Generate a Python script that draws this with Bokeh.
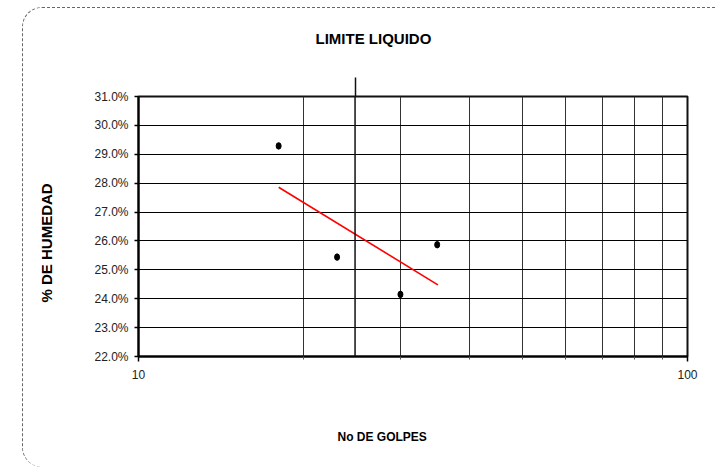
from bokeh.plotting import figure
from bokeh.models import (Range1d, FixedTicker, NumeralTickFormatter, PrintfTickFormatter,
                          LinearAxis, Span, Title, InlineStyleSheet)
from bokeh.embed import file_html
from bokeh.resources import INLINE

# ---- data ----
golpes = [18, 23, 30, 35]
humedad = [0.2929, 0.2544, 0.2415, 0.2587]
trend_golpes = [18, 35.1]
trend_humedad = [0.2786, 0.2448]
ref_golpes = 24.8
y_ticks = [0.22, 0.23, 0.24, 0.25, 0.26, 0.27, 0.28, 0.29, 0.30, 0.31]
x_major = [10, 100]
x_minor = [20, 30, 40, 50, 60, 70, 80, 90]

title_text = "LIMITE LIQUIDO"
x_label = "No DE GOLPES"
y_label = "% DE HUMEDAD"

FONT = "Liberation Sans"

p = figure(width=716, height=467, x_axis_type="log",
           x_range=Range1d(10, 100), y_range=Range1d(0.22, 0.31),
           output_backend="svg", toolbar_location=None,
           min_border_left=137, min_border_right=29,
           min_border_top=96, min_border_bottom=111)
p.background_fill_color = "white"
p.border_fill_color = "white"
p.outline_line_color = "#111111"
p.outline_line_width = 2

# dashed rounded frame around the chart area (page decoration)
p.stylesheets = [InlineStyleSheet(css="""
:host::after {
  content: '';
  position: absolute;
  left: 22px; top: 7px; right: 0px; bottom: 0px;
  border-top: 1px dashed #666;
  border-left: 1px dashed #666;
  border-top-left-radius: 20px;
  border-bottom-left-radius: 20px;
  pointer-events: none;
}
""")]

# y axis
p.yaxis.ticker = FixedTicker(ticks=y_ticks)
p.yaxis.formatter = NumeralTickFormatter(format="0.0%")
p.yaxis.axis_line_width = 2
p.yaxis.axis_line_color = "black"
p.yaxis.major_tick_out = 4
p.yaxis.major_tick_in = 0
p.yaxis.major_tick_line_width = 1.5
p.yaxis.minor_tick_line_color = None
p.yaxis.major_label_standoff = 6
p.yaxis.major_label_text_font = FONT
p.yaxis.major_label_text_font_size = "12px"
p.yaxis.major_label_text_color = "#222222"

# x axis (log)
p.xaxis.ticker = FixedTicker(ticks=x_major, minor_ticks=x_minor)
p.xaxis.formatter = PrintfTickFormatter(format="%d")
p.xaxis.axis_line_width = 2
p.xaxis.axis_line_color = "black"
p.xaxis.major_tick_out = 5
p.xaxis.major_tick_in = 0
p.xaxis.major_tick_line_width = 1.5
p.xaxis.minor_tick_out = 3
p.xaxis.minor_tick_in = 0
p.xaxis.minor_tick_line_color = "#555555"
p.xaxis.major_label_standoff = 8
p.xaxis.major_label_text_font = FONT
p.xaxis.major_label_text_font_size = "12px"
p.xaxis.major_label_text_color = "#222222"

# grids
p.ygrid.ticker = FixedTicker(ticks=y_ticks)
p.ygrid.grid_line_color = "black"
p.ygrid.grid_line_width = 1.2
p.xgrid.ticker = FixedTicker(ticks=x_minor)
p.xgrid.grid_line_color = "#333333"
p.xgrid.grid_line_width = 1

# reference line near 25 blows (inside plot)
p.add_layout(Span(location=ref_golpes, dimension="height",
                  line_color="#111111", line_width=1.5))
# its extension above the plot (also spaces the title)
ref_top = LinearAxis(ticker=FixedTicker(ticks=[ref_golpes]), axis_line_color=None,
                     major_tick_out=19, major_tick_in=0, major_tick_line_width=1.5,
                     major_tick_line_color="#111111", minor_tick_line_color=None,
                     major_label_overrides={ref_golpes: ""}, major_label_standoff=0,
                     major_label_text_font_size="0px")
p.add_layout(ref_top, "above")
# its extension below the plot
ref_bot = LinearAxis(ticker=FixedTicker(ticks=[ref_golpes]), axis_line_color=None,
                     fixed_location=y_ticks[0],
                     major_tick_out=15, major_tick_in=0, major_tick_line_width=1.5,
                     major_tick_line_color="#111111", minor_tick_line_color=None,
                     major_label_overrides={ref_golpes: ""}, major_label_standoff=0,
                     major_label_text_font_size="0px")
p.add_layout(ref_bot, "below")
# spacer between x tick labels and x label
spacer = LinearAxis(ticker=FixedTicker(ticks=[x_major[0]]), axis_line_color=None,
                    major_tick_out=42, major_tick_in=0, major_tick_line_color="white",
                    minor_tick_line_color=None,
                    major_label_overrides={x_major[0]: ""}, major_label_standoff=0,
                    major_label_text_font_size="0px")
p.add_layout(spacer, "below")

# trend line and points
p.line(trend_golpes, trend_humedad, line_color="red", line_width=1.6)
p.ellipse(golpes, humedad, width=5, height=6.5, width_units="screen",
          height_units="screen", fill_color="black", line_color="black")

# texts
p.title.text = title_text
p.title.text_font = FONT
p.title.text_font_size = "15px"
p.title.text_font_style = "bold"
p.title.text_color = "black"
p.title.align = "left"
p.title.offset = 177
p.title.standoff = 58
p.title.vertical_align = "top"

p.add_layout(Title(text=x_label, text_font=FONT, text_font_size="12px",
                   text_font_style="bold", text_color="black", align="left",
                   offset=199, standoff=10, vertical_align="middle"), "below")
p.add_layout(Title(text=y_label, text_font=FONT, text_font_size="15px",
                   text_font_style="bold", text_color="black", align="left",
                   offset=54, standoff=72, vertical_align="middle"), "left")

open("out.html", "w").write(file_html(p, INLINE))
